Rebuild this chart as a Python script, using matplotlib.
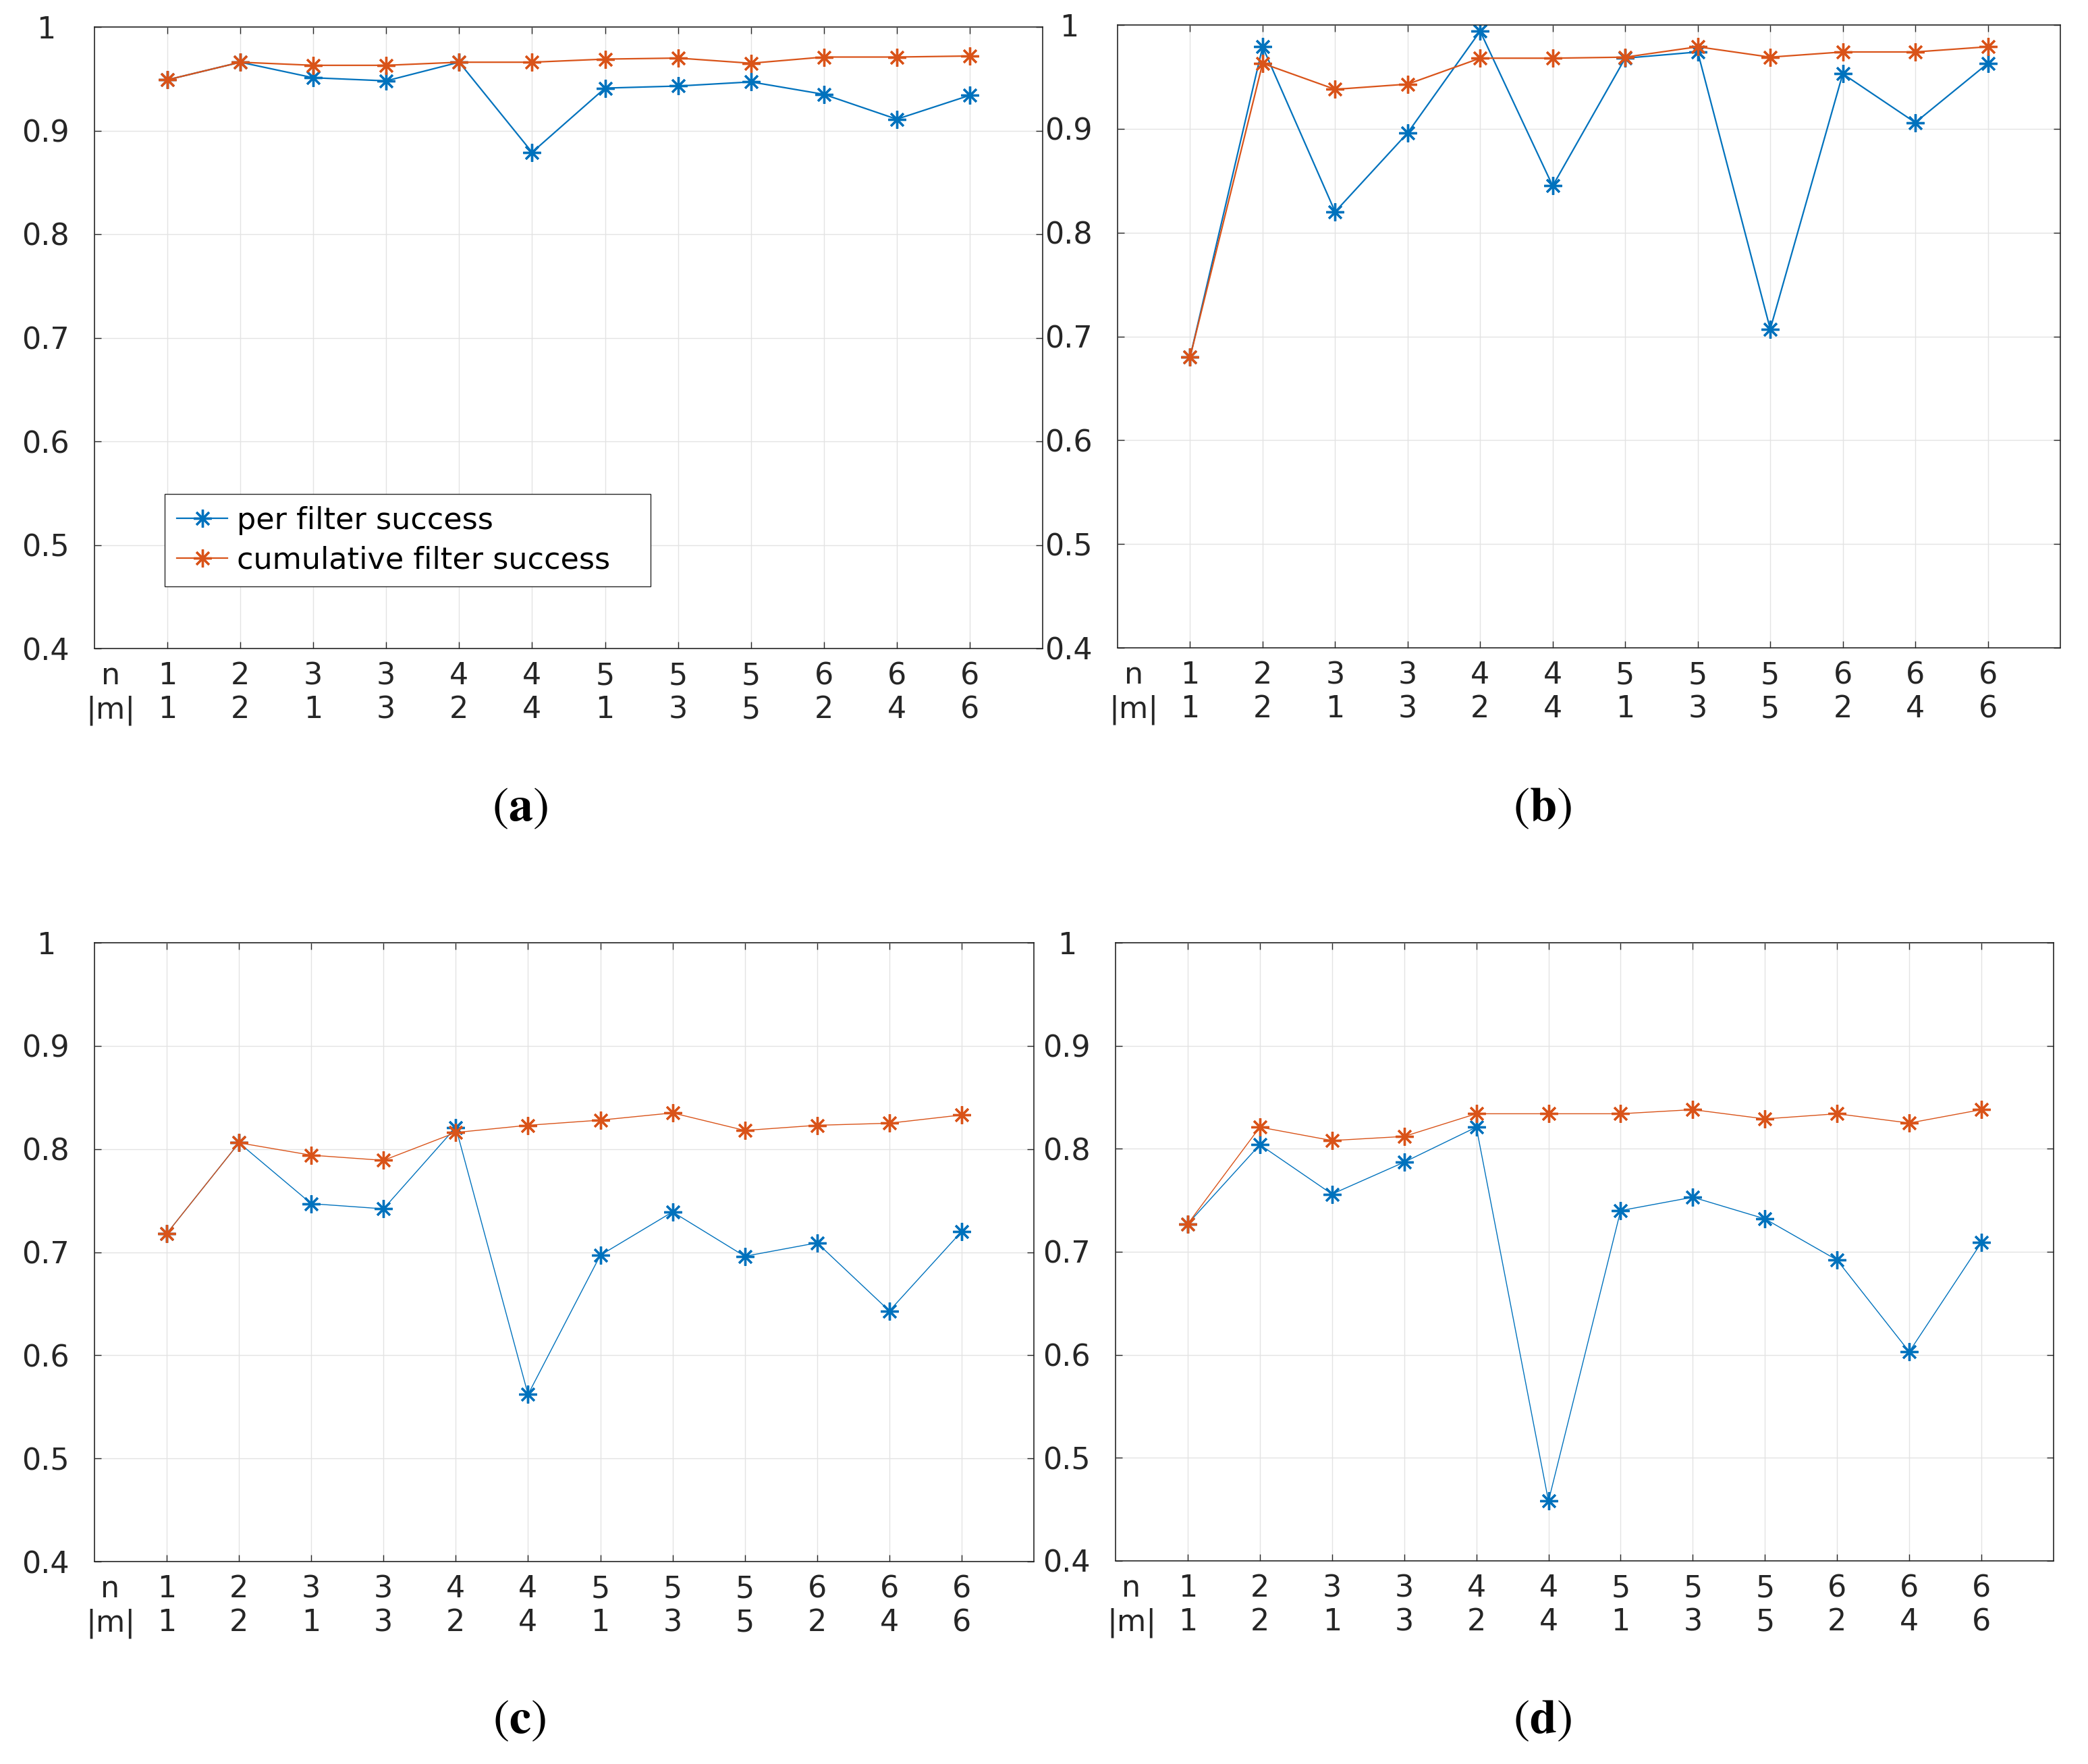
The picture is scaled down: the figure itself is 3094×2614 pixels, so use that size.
import numpy as np
import matplotlib
matplotlib.use("Agg")
import matplotlib.pyplot as plt

# x positions / tick labels (n, |m|)
n_vals = [1, 2, 3, 3, 4, 4, 5, 5, 5, 6, 6, 6]
m_vals = [1, 2, 1, 3, 2, 4, 1, 3, 5, 2, 4, 6]
x = np.arange(1, 13)

# (a)
per_a = [0.949, 0.966, 0.951, 0.948, 0.966, 0.879, 0.941, 0.943, 0.947, 0.935, 0.911, 0.934]
cum_a = [0.949, 0.966, 0.963, 0.963, 0.966, 0.966, 0.969, 0.970, 0.965, 0.971, 0.971, 0.972]
# (b)
per_b = [0.680, 0.979, 0.820, 0.896, 0.994, 0.845, 0.968, 0.974, 0.707, 0.953, 0.906, 0.963]
cum_b = [0.680, 0.963, 0.938, 0.943, 0.968, 0.968, 0.969, 0.979, 0.969, 0.974, 0.974, 0.979]
# (c)
per_c = [0.718, 0.806, 0.747, 0.742, 0.821, 0.562, 0.697, 0.739, 0.696, 0.709, 0.643, 0.720]
cum_c = [0.718, 0.806, 0.794, 0.789, 0.816, 0.823, 0.828, 0.835, 0.818, 0.823, 0.825, 0.833]
# (d)
per_d = [0.727, 0.804, 0.756, 0.787, 0.821, 0.458, 0.740, 0.753, 0.732, 0.692, 0.603, 0.709]
cum_d = [0.727, 0.821, 0.808, 0.812, 0.834, 0.834, 0.834, 0.838, 0.829, 0.834, 0.825, 0.838]

yticks = [0.4, 0.5, 0.6, 0.7, 0.8, 0.9, 1.0]
ylabels = ["0.4", "0.5", "0.6", "0.7", "0.8", "0.9", "1"]

blue = "#0072BD"
orange = "#D95319"
axcol = "#262626"
fs = 32
star = (8, 2, 0)

plt.rcParams['font.family'] = ['DejaVu Sans']

fig = plt.figure(figsize=(30.94, 26.14), dpi=100)

W, H = 3094.0, 2614.0
# axes boxes in pixels: left, top, right, bottom
boxes = [(140, 40, 1545, 961), (1656, 37, 3053, 960),
         (140, 1397, 1532, 2314), (1653, 1397, 3043, 2313)]
series = [(per_a, cum_a), (per_b, cum_b), (per_c, cum_c), (per_d, cum_d)]
lws = [1.6, 1.6, 1.0, 1.0]
letters = ["a", "b", "c", "d"]
letter_pos = [(770, 1197), (2285, 1197), (769, 2549), (2285, 2549)]

for i in range(4):
    l, t, r, b = boxes[i]
    ax = fig.add_axes([l / W, 1 - b / H, (r - l) / W, (b - t) / H])
    per, cum = series[i]
    ax.plot(x, per, color=blue, lw=lws[i], marker=star, ms=19, mew=2.4,
            label="per filter success   ")
    ax.plot(x, cum, color=orange, lw=lws[i], marker=star, ms=19, mew=2.4,
            label="cumulative filter success   ")
    ax.set_xlim(0, 13)
    ax.set_ylim(0.4, 1.0)

    ax.set_xticks([0.22] + list(x))
    ax.set_xticklabels(["n\n|m|"] + ["%d\n%d" % (a, c) for a, c in zip(n_vals, m_vals)],
                       fontsize=fs, color=axcol)
    ax.set_yticks(yticks)
    ax.set_yticklabels(ylabels, fontsize=fs, color=axcol, ha="center")

    ax.grid(True, color="#e3e3e3", lw=1.0)
    ax.set_axisbelow(True)
    ax.tick_params(axis="both", direction="in", length=7, width=1.0, color=axcol,
                   top=True, right=True)
    ax.tick_params(axis="x", pad=14)
    ax.tick_params(axis="y", pad=52)
    t0 = ax.xaxis.get_major_ticks()[0]
    t0.tick1line.set_visible(False)
    t0.tick2line.set_visible(False)
    t0.gridline.set_visible(False)
    for s in ax.spines.values():
        s.set_color(axcol)
        s.set_linewidth(1.2)

    if i == 0:
        leg = ax.legend(loc="lower left", bbox_to_anchor=(0.074, 0.1), borderaxespad=0,
                        fontsize=fs, fancybox=False, framealpha=1, edgecolor=axcol,
                        handlelength=1.7, handletextpad=0.3, labelspacing=0.35,
                        borderpad=0.4)
        leg.get_frame().set_linewidth(1.0)

    # panel label: normal parentheses, bold letter
    lx, ly = letter_pos[i]
    fig.text(lx / W, 1 - ly / H, r"$(\mathbf{%s})$" % letters[i], ha="center", va="center",
             fontsize=52, math_fontfamily="stix")

fig.savefig("out.png", dpi=100)
